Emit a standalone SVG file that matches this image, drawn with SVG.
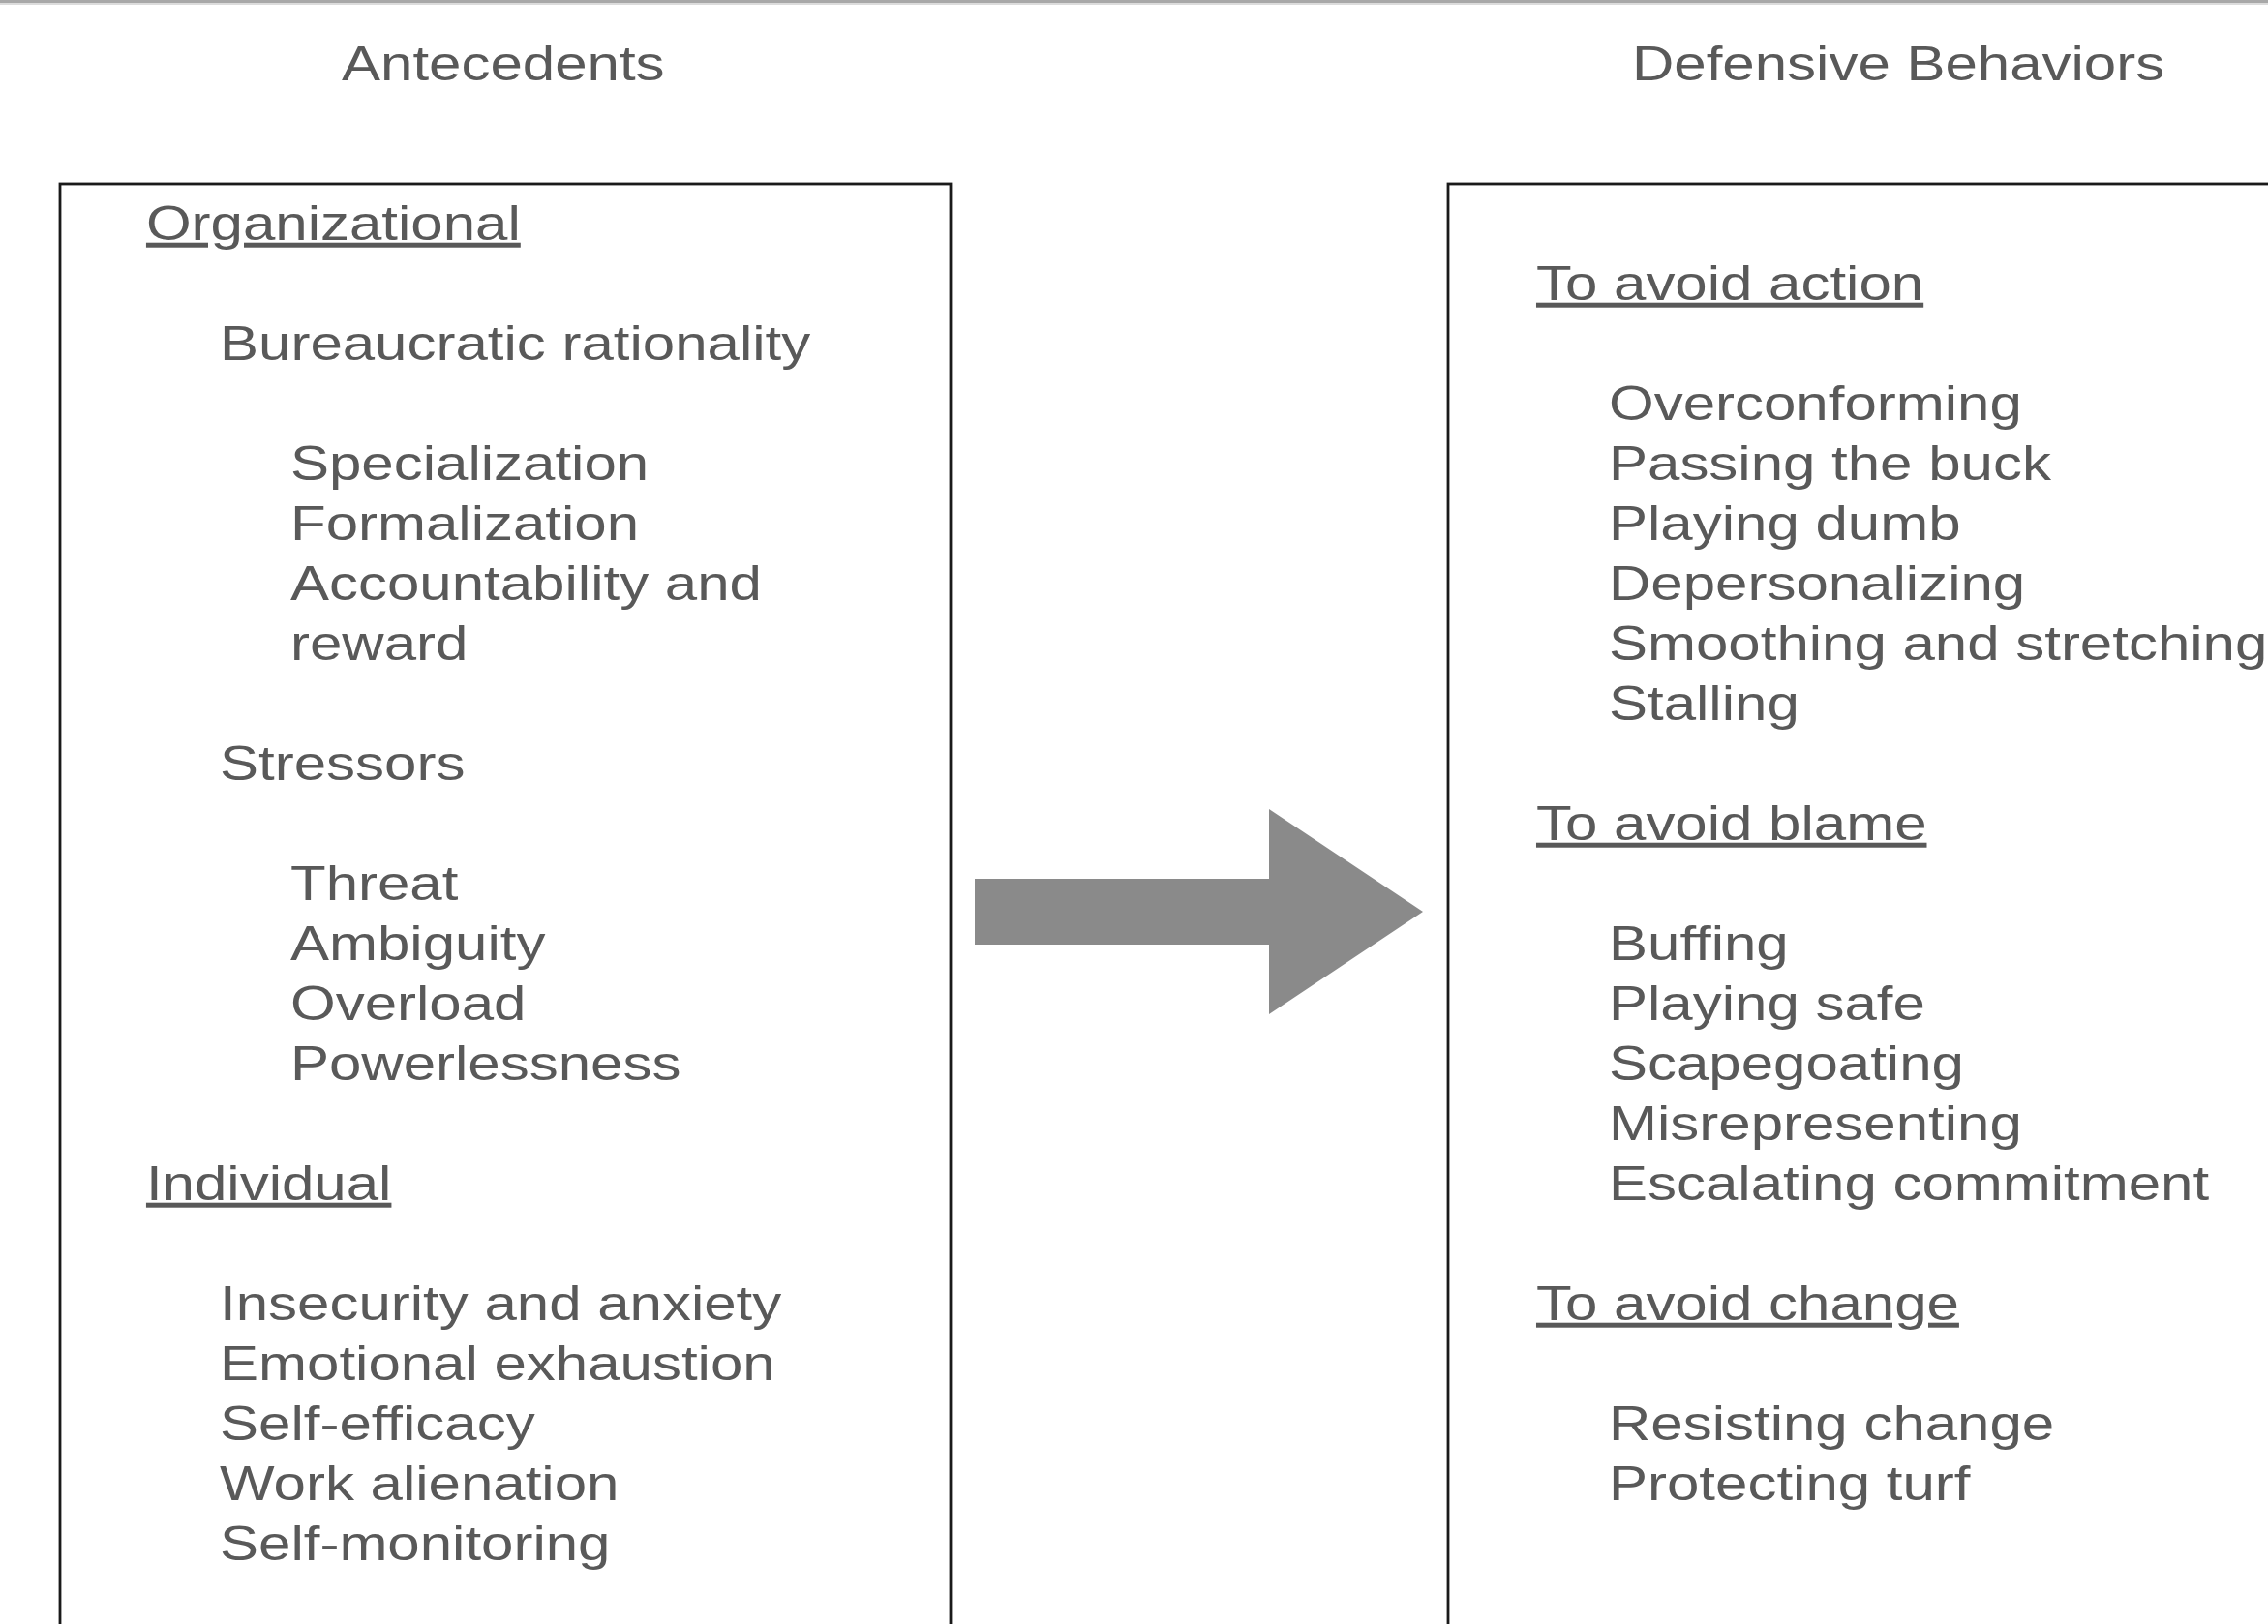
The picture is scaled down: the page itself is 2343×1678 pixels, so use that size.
<svg xmlns="http://www.w3.org/2000/svg" width="2343" height="1678" viewBox="0 0 2343 1678">
<defs>
<style>
text{font-family:"Liberation Sans",Arial,Helvetica,sans-serif;font-size:50px;fill:#595959}
.u{text-decoration:underline}
.box{fill:none;stroke:#1a1a1a;stroke-width:2.8}
</style>
</defs>
<rect x="0" y="0" width="2343" height="1678" fill="#ffffff"/>
<rect x="0" y="0" width="2343" height="3" fill="#a8a8a8"/>
<rect x="0" y="3" width="2343" height="2" fill="#dcdcdc"/>
<g id="header-antecedents" transform="scale(1.2 1)"><text x="294.2" y="83">Antecedents</text></g>
<g id="header-defensive" transform="scale(1.2 1)"><text x="1405" y="83">Defensive Behaviors</text></g>
<g id="antecedents">
<rect class="box" x="62" y="190" width="920" height="1520"/>
<g transform="scale(1.2 1)">
<text class="u" x="125.8" y="248">Organizational</text>
<text x="189.2" y="372">Bureaucratic rationality</text>
<text x="250" y="496">Specialization</text>
<text x="250" y="558">Formalization</text>
<text x="250" y="620">Accountability and</text>
<text x="250" y="682">reward</text>
<text x="189.2" y="806">Stressors</text>
<text x="250" y="930">Threat</text>
<text x="250" y="992">Ambiguity</text>
<text x="250" y="1054">Overload</text>
<text x="250" y="1116">Powerlessness</text>
<text class="u" x="125.8" y="1240">Individual</text>
<text x="189.2" y="1364">Insecurity and anxiety</text>
<text x="189.2" y="1426">Emotional exhaustion</text>
<text x="189.2" y="1488">Self-efficacy</text>
<text x="189.2" y="1550">Work alienation</text>
<text x="189.2" y="1612">Self-monitoring</text>
</g>
</g>
<g id="defensive-behaviors">
<rect class="box" x="1496" y="190" width="1000" height="1520"/>
<g transform="scale(1.2 1)">
<text class="u" x="1322.5" y="310">To avoid action</text>
<text x="1385" y="434">Overconforming</text>
<text x="1385" y="496">Passing the buck</text>
<text x="1385" y="558">Playing dumb</text>
<text x="1385" y="620">Depersonalizing</text>
<text x="1385" y="682">Smoothing and stretching</text>
<text x="1385" y="744">Stalling</text>
<text class="u" x="1322.5" y="868">To avoid blame</text>
<text x="1385" y="992">Buffing</text>
<text x="1385" y="1054">Playing safe</text>
<text x="1385" y="1116">Scapegoating</text>
<text x="1385" y="1178">Misrepresenting</text>
<text x="1385" y="1240">Escalating commitment</text>
<text class="u" x="1322.5" y="1364">To avoid change</text>
<text x="1385" y="1488">Resisting change</text>
<text x="1385" y="1550">Protecting turf</text>
</g>
</g>
<g id="connectors">
<polygon points="1007,908 1311,908 1311,836 1470,942 1311,1048 1311,976 1007,976" fill="#8a8a8a"/>
</g>
</svg>
